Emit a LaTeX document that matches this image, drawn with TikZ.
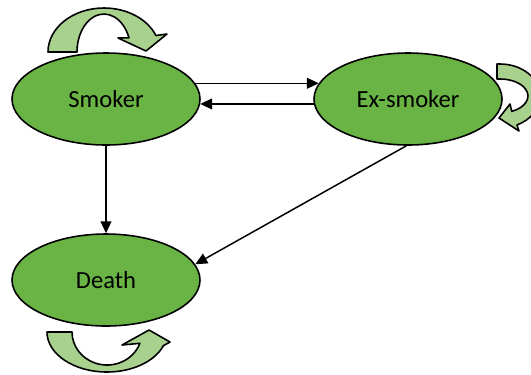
\documentclass[tikz,border=0pt]{standalone}
\usepackage{fontspec}
\setmainfont{Carlito}
\usetikzlibrary{shapes.geometric,arrows.meta}
\definecolor{stategreen}{RGB}{105,180,68}
\definecolor{loopgreen}{RGB}{169,209,142}

\begin{document}
\begin{tikzpicture}[x=0.2mm, y=-0.2mm,
    state/.style={ellipse, draw, line width=0.9pt, fill=stategreen, minimum width=3.76cm, minimum height=1.84cm, inner sep=0pt, font=\fontsize{14}{17}\selectfont},
    flow/.style={line width=0.85pt, -{Triangle[length=6.8pt,width=6.2pt]}},
    loop/.style={draw, line width=0.9pt, fill=loopgreen, line join=round}]
    \useasboundingbox (0,0) rectangle (531,374);
    \node[state] (smoker) at (106,99) {Smoker};
    \node[state] (ex) at (408,99) {Ex-smoker};
    \node[state] (death) at (106,280) {Death};
    \draw[flow] (smoker.10) -- (ex.170);
    \draw[flow] (ex.183) -- (smoker.357);
    \draw[flow] (smoker.south) -- (death.north);
    \draw[flow] (ex.268) -- (death.10);
    \draw[loop] (48,52) arc[start angle=180, end angle=338, x radius=56, y radius=44]
        -- (167,34) -- (146,51) -- (118,38) -- (129,37.8)
        arc[start angle=338, end angle=180, x radius=27, y radius=38] -- cycle;
    \draw[loop] (497,64) -- (500,64) arc[start angle=270, end angle=425, x radius=40, y radius=32]
        -- (519,131) -- (499,118) -- (510,104) -- (511.8,111.4)
        arc[start angle=425, end angle=270, x radius=28, y radius=17] -- (497,79) -- cycle;
    \draw[loop] (47,332) arc[start angle=180, end angle=20, x radius=60, y radius=40]
        -- (170,342) -- (149,330) -- (122,345) -- (139.9,343.3)
        arc[start angle=20, end angle=180, x radius=35, y radius=33] -- cycle;
\end{tikzpicture}
\end{document}
